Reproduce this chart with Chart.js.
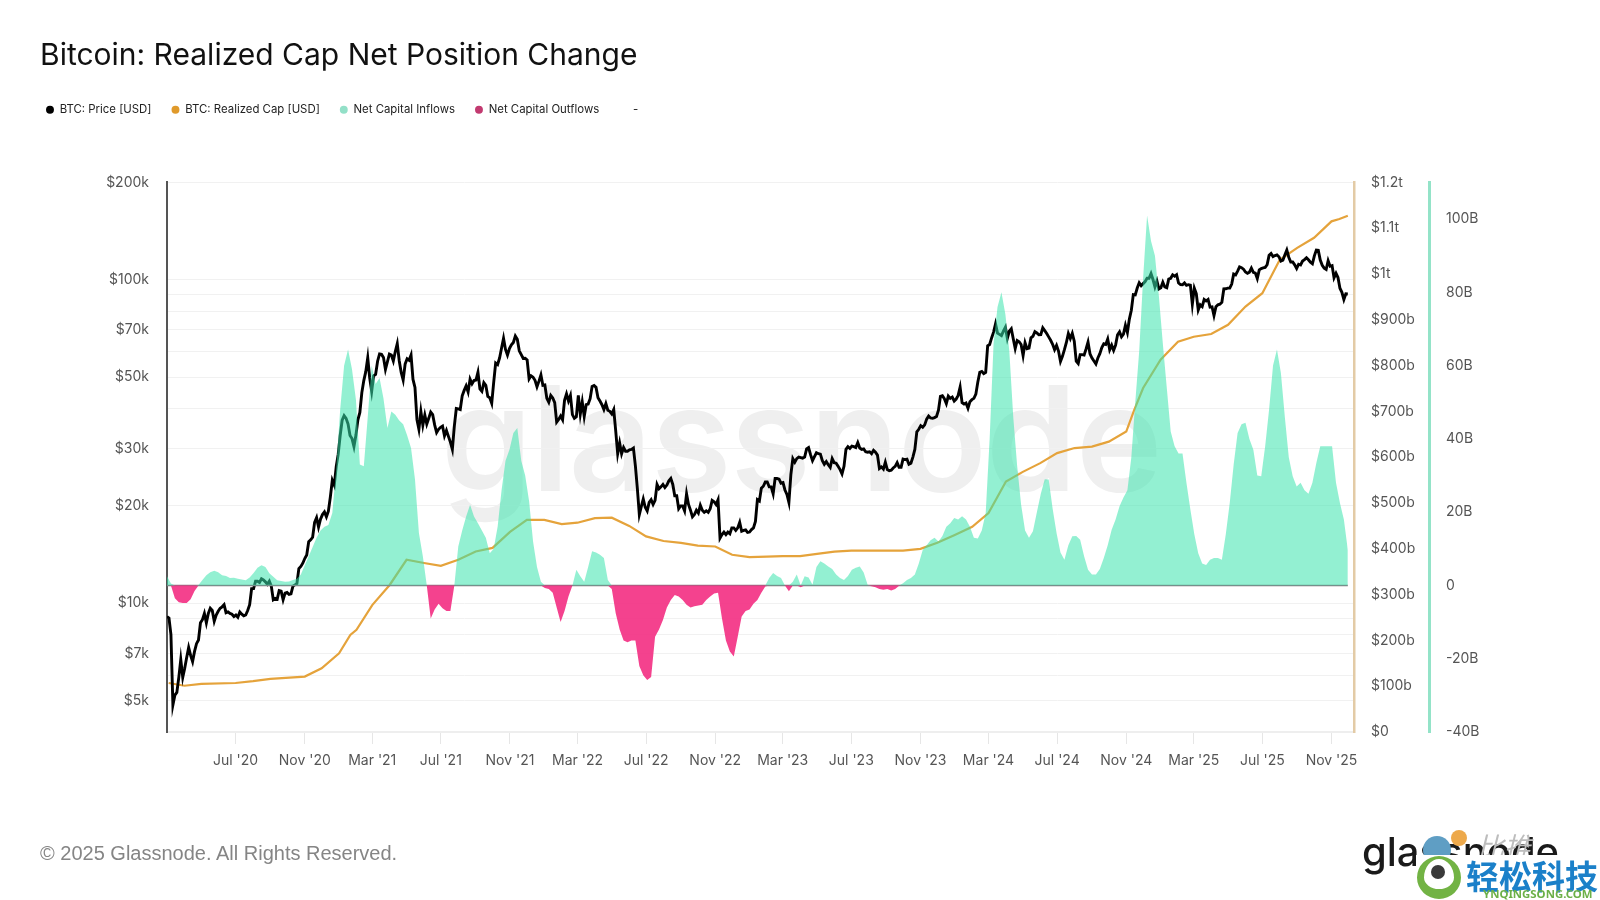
<!DOCTYPE html>
<html>
<head>
<meta charset="utf-8">
<title>Bitcoin: Realized Cap Net Position Change</title>
<script src="https://cdn.jsdelivr.net/npm/chart.js@4/dist/chart.umd.min.js"></script>
<style>
    html, body { margin: 0; padding: 0; background: #fff; }
    #page { position: relative; width: 1600px; height: 900px; overflow: hidden; background: #fff; }
    #page div { position: absolute; white-space: nowrap; }
    canvas { position: absolute; left: 0; top: 0; }
    #watermark { left: 441px; top: 350px; font: 600 146px Inter; color: #efefef; letter-spacing: -1px; }
    #copyright { left: 40px; top: 842px; font: 20px "Liberation Sans"; color: #858585; }
    #logo { left: 1362px; top: 827px; font: 500 40px Inter; color: #1a1a1a; }
    #mascot { left: 1423px; top: 836px; width: 28px; height: 28px; border-radius: 50%; background: #5f9ec4; }
    #coin { left: 1451px; top: 830px; width: 16px; height: 16px; border-radius: 50%; background: #eda94b; }
    #bitui { left: 1477px; top: 826px; font: italic 27px "Noto Sans CJK SC"; color: #bdbdbd; }
    #patch { left: 1416px; top: 855px; width: 184px; height: 45px; background: #fff; }
    #ring { left: 1417px; top: 856px; width: 30px; height: 30px; border: solid #72b344; border-width: 3px 7px 10px; border-radius: 50%; }
    #dot { left: 1431px; top: 865px; width: 14px; height: 14px; border-radius: 50%; background: #3a3a3a; }
    #brand { left: 1466px; top: 851px; font: 700 33px "Noto Sans CJK SC"; color: #1b80c9; }
    #site { left: 1483px; top: 886px; font: 700 11.4px "Noto Sans"; color: #6cb048; }
</style>
</head>
<body>
<div id="page">
    <div id="watermark">glassnode</div>
    <canvas id="myChart" width="1600" height="900"></canvas>
    <div id="copyright">© 2025 Glassnode. All Rights Reserved.</div>
    <div id="logo">glassnode</div>
    <div id="mascot"></div>
    <div id="coin"></div>
    <div id="bitui">比推</div>
    <div id="patch"></div>
    <div id="ring"></div>
    <div id="dot"></div>
    <div id="brand">轻松科技</div>
    <div id="site">YNQINGSONG.COM</div>
</div>

<script>
//Price, two values a week from 1 Mar 2020 (USD).
const price2020 = [9100, 9000, 8000, 4850, 5200, 5300, 5900, 6700, 5900, 6300, 6800, 7300, 6900, 6600, 7100, 7500, 7700, 8700, 8900, 9300, 8700, 9300, 9650, 9500, 8800, 9200, 9450, 9650, 9750, 9900, 9350, 9400, 9300, 9250, 9100, 9200, 9050, 9400, 9250, 9150, 9200, 9500, 9900, 11100, 11100, 11700, 11700, 11600, 11900, 11800, 11650, 11450, 11700, 11300, 10250, 10350, 10300, 10950, 10900, 10250, 10750, 10800, 10650, 10700, 11300, 11400, 11500, 12800, 13000, 13300, 13750, 14100, 15500, 15700, 16000, 17800, 18400, 17200, 18200, 18800, 19150, 18500, 19250, 21300, 24000, 23200, 26500, 28900];
const price2021 = [33000, 36800, 38000, 37300, 35800, 33000, 32300, 30500, 33100, 36900, 38900, 44800, 48800, 52000, 57400, 49700, 45200, 50500, 51000, 56000, 59000, 58800, 57500, 52800, 55800, 58900, 58500, 56100, 60000, 63500, 56200, 51700, 49000, 54900, 57000, 56400, 58500, 49200, 46500, 37000, 34500, 39200, 35500, 38200, 35800, 37300, 39000, 38300, 35600, 33700, 34500, 35000, 35300, 32900, 34200, 32800, 31500, 29900, 35300, 40000, 39900, 39700, 43800, 45500, 47000, 45000, 49300, 47700, 48800, 49000, 51800, 46000, 45200, 48100, 47200, 43600, 43200, 41500, 48200, 55300, 54700, 57300, 61500, 65900, 60900, 58500, 61300, 62900, 64000, 67000, 65500, 60300, 58700, 57100, 57200, 56500, 49400, 50500, 50000, 48900, 46700, 48600, 50800, 47200];
const price2022 = [47300, 43000, 41800, 43900, 43100, 41700, 36300, 37000, 37900, 36900, 42400, 44400, 42200, 43900, 38300, 37300, 37700, 43900, 38400, 41900, 37800, 41100, 41300, 42900, 46800, 47100, 46500, 43200, 42200, 41100, 39700, 41400, 39500, 39200, 38500, 39700, 34100, 29000, 31300, 29000, 30300, 29500, 29500, 29800, 29900, 30200, 26600, 22600, 18800, 19900, 21000, 19800, 19300, 20500, 20900, 20200, 20800, 23300, 22600, 22900, 23300, 22800, 23200, 23900, 24300, 23300, 21500, 21500, 19600, 20000, 20000, 19300, 21800, 20200, 19400, 18500, 18800, 19400, 19000, 20100, 19400, 19100, 19300, 19100, 19600, 20800, 20600, 20200, 20900, 15900, 16300, 16600, 16300, 16600, 16400, 17100, 17100, 16800, 17100, 17800, 16700, 16800, 16850, 16550];
const price2023 = [16600, 16900, 17100, 17900, 20900, 20700, 22700, 23000, 23700, 23700, 22900, 22900, 21800, 24300, 24300, 24200, 23500, 23600, 22400, 21700, 20500, 25000, 28000, 27300, 28000, 28300, 28200, 28100, 28300, 30000, 30300, 28800, 27600, 28400, 29200, 29000, 28900, 27600, 26900, 27400, 26800, 26300, 28000, 27200, 27100, 26500, 25900, 25100, 26500, 29900, 30500, 30100, 30600, 30500, 30300, 31400, 30200, 29900, 30000, 29400, 29300, 29400, 29000, 29700, 29300, 28700, 26100, 26400, 26000, 27300, 25900, 25700, 25800, 26200, 26500, 27200, 26300, 26300, 27900, 27800, 27900, 26900, 27100, 28300, 29900, 33900, 34500, 35400, 35000, 35600, 37100, 37900, 37400, 37300, 37500, 37800, 39500, 43600, 43800, 42900, 41400, 43700, 43000, 43400, 42200, 42800];
const price2024 = [43900, 46600, 41700, 41300, 41600, 40100, 42000, 42600, 43000, 44300, 48300, 51800, 52100, 51300, 51700, 62500, 63100, 66100, 68900, 73100, 68400, 67800, 67200, 69400, 71300, 65900, 69400, 70600, 65700, 61300, 64900, 64300, 63100, 58300, 63900, 61200, 61500, 66200, 66900, 69100, 68500, 67600, 67700, 71000, 69600, 68200, 66600, 65000, 63200, 60800, 62700, 60200, 55900, 58000, 60800, 64000, 68200, 65800, 68300, 64600, 56000, 55100, 58700, 58700, 58500, 61100, 64200, 59000, 57300, 56100, 54900, 57300, 59100, 61700, 63400, 63100, 65600, 60800, 62800, 60500, 62800, 67600, 69000, 66600, 67900, 72300, 68700, 75600, 80500, 90000, 89800, 94300, 97900, 95900, 97300, 98700, 101100, 101100, 104500, 100200, 95100, 99200, 93700, 94500];
const price2025 = [98300, 95000, 94500, 100500, 101100, 103600, 102600, 103700, 97700, 96600, 96500, 97800, 96100, 96600, 96300, 84000, 94200, 90600, 80700, 83700, 82600, 86900, 86000, 86900, 82300, 82500, 77500, 82500, 83700, 84000, 85200, 93700, 93800, 94200, 94300, 97000, 104100, 103500, 106400, 109600, 109000, 107800, 105700, 104700, 105600, 108700, 105500, 104900, 100900, 107300, 108300, 108800, 109200, 111300, 119000, 120500, 117900, 118800, 119400, 117800, 114200, 115000, 119300, 123500, 117400, 113500, 113500, 111200, 108300, 111700, 111100, 114300, 115400, 117000, 115300, 113300, 112100, 118600, 123500, 123300, 115100, 110800, 108600, 107600, 114500, 110100, 110600, 101500, 104700, 101600, 94200, 91500, 86900, 90500, 90400];

//Realized cap (USD billions).
const capDates = ['2020-03-04', '2020-04-01', '2020-05-01', '2020-07-01', '2020-08-01', '2020-09-01', '2020-11-01', '2020-12-01', '2021-01-01', '2021-01-21', '2021-02-01', '2021-03-01', '2021-04-01', '2021-05-01', '2021-06-01', '2021-07-01', '2021-08-01', '2021-09-01', '2021-10-01', '2021-11-01', '2021-12-01', '2022-01-01', '2022-02-01', '2022-03-01', '2022-04-01', '2022-05-01', '2022-06-01', '2022-07-01', '2022-08-01', '2022-09-01', '2022-10-01', '2022-11-01', '2022-12-01', '2023-01-01', '2023-02-01', '2023-03-01', '2023-04-01', '2023-05-01', '2023-06-01', '2023-07-01', '2023-08-01', '2023-09-01', '2023-10-01', '2023-11-01', '2023-12-01', '2024-01-01', '2024-02-01', '2024-03-01', '2024-04-01', '2024-05-01', '2024-06-01', '2024-07-01', '2024-08-01', '2024-09-01', '2024-10-01', '2024-11-01', '2024-11-15', '2024-12-01', '2025-01-01', '2025-02-01', '2025-03-01', '2025-04-01', '2025-05-01', '2025-06-01', '2025-07-01', '2025-08-01', '2025-09-01', '2025-10-01', '2025-11-01', '2025-11-15', '2025-11-30'];
const capValues = [107, 101, 105, 107, 111, 116, 121, 139, 172, 212, 223, 277, 321, 376, 369, 363, 376, 394, 402, 437, 463, 463, 454, 457, 467, 468, 450, 427, 417, 413, 407, 405, 387, 382, 383, 384, 384, 389, 394, 396, 396, 396, 396, 400, 413, 430, 448, 478, 547, 568, 587, 609, 620, 623, 634, 656, 703, 751, 813, 852, 863, 869, 889, 929, 958, 1031, 1057, 1079, 1115, 1120, 1127];

//Net position change, one value a week from 1 Mar 2020 (USD billions).
const netFlow = [
    2.5, 0.5, -3.5, -4.6, -4.8, -4.8, -3.8, -1.5, 0.1, 1.5,
    2.8, 3.6, 4, 3.6, 2.8, 2.6, 2, 2.1, 1.8, 1.6,
    1.4, 2.2, 3.4, 4.8, 5.5, 5, 3.3, 2.4, 1.4, 1.2,
    1, 1.1, 1.5, 1.8, 3, 5.5, 8, 10.5, 13, 15,
    16, 16.5, 19.8, 32, 48, 60, 64.4, 59, 50.7, 33,
    32.5, 46, 60, 55, 56.6, 51, 43, 47.5, 46.6, 45,
    44, 41, 37.5, 29, 14.3, 8, 0, -9, -6.6, -5,
    -6.2, -7, -7, 0, 10.6, 15, 18.8, 22, 18.8, 17,
    15, 13, 8.8, 10, 16, 26, 34, 37, 41.6, 43,
    34, 30, 23, 12, 5, 1, -0.7, -1, -2, -6,
    -10, -7, -3, 0, 4.3, 2.5, 1, 5, 9.3, 9,
    8.4, 7.5, 1.5, -1, -7.6, -12, -15, -15.5, -15, -15,
    -22, -24.5, -25.8, -25, -14, -12, -9.4, -6, -4, -2.6,
    -3, -4, -5.3, -6, -5.7, -5.5, -5.3, -4, -3, -2.2,
    -2, -9, -15, -18, -19.4, -14, -8.5, -7, -6.6, -5,
    -4, -2, -0.3, 2, 3.4, 2.6, 2, 0, -1.6, 1,
    3, -0.5, 2.5, 2.2, 0.2, 5, 6.6, 6, 5.2, 4.5,
    3, 2, 1.5, 2.6, 4.3, 4.8, 5.2, 3.5, 0.2, -0.2,
    -0.5, -1, -1.2, -1, -1.4, -1, -0.1, 0.6, 1.5, 2,
    3, 6, 9.7, 11, 12.3, 13, 12, 13.5, 16, 17,
    18.4, 18, 18.9, 18, 16, 13, 12.8, 15, 19.8, 40,
    66, 76, 80, 74, 64, 46, 32.5, 22, 15, 13,
    14.8, 20, 25, 29, 28.9, 21, 14.3, 9, 7, 11,
    13.4, 13.5, 12.5, 8, 4.3, 3, 3, 4.5, 7.5, 11,
    15.2, 18, 21.6, 24, 26, 35, 50, 64, 84, 101,
    94, 90, 79, 66, 54, 42, 38, 36, 36, 28,
    20.7, 14, 8.8, 6, 5.6, 7, 7.5, 7.5, 7, 14,
    22.5, 33, 41.6, 44, 44.4, 40, 37, 30, 29.8, 38,
    48, 60, 64.4, 58, 46, 35, 29.8, 27, 28, 26,
    25, 28, 33.4, 38, 38, 38, 38, 28, 22.5, 18,
    9.7
];

//Axes.
const xTickDates = ['2020-07-01', '2020-11-01', '2021-03-01', '2021-07-01', '2021-11-01', '2022-03-01', '2022-07-01', '2022-11-01', '2023-03-01', '2023-07-01', '2023-11-01', '2024-03-01', '2024-07-01', '2024-11-01', '2025-03-01', '2025-07-01', '2025-11-01'];
const xTickLabels = ["Jul '20", "Nov '20", "Mar '21", "Jul '21", "Nov '21", "Mar '22", "Jul '22", "Nov '22", "Mar '23", "Jul '23", "Nov '23", "Mar '24", "Jul '24", "Nov '24", "Mar '25", "Jul '25", "Nov '25"];
const priceGridValues = [4000, 5000, 6000, 7000, 8000, 9000, 10000, 20000, 30000, 40000, 50000, 60000, 70000, 80000, 90000, 100000, 200000];
const priceTickValues = [5000, 7000, 10000, 20000, 30000, 50000, 70000, 100000, 200000];
const priceTickLabels = ['$5k', '$7k', '$10k', '$20k', '$30k', '$50k', '$70k', '$100k', '$200k'];
const capTickValues = [0, 100, 200, 300, 400, 500, 600, 700, 800, 900, 1000, 1100, 1200];
const capTickLabels = ['$0', '$100b', '$200b', '$300b', '$400b', '$500b', '$600b', '$700b', '$800b', '$900b', '$1t', '$1.1t', '$1.2t'];
const flowTickValues = [-40, -20, 0, 20, 40, 60, 80, 100];
const flowTickLabels = ['-40B', '-20B', '0', '20B', '40B', '60B', '80B', '100B'];

const legendNames = ['BTC: Price [USD]', 'BTC: Realized Cap [USD]', 'Net Capital Inflows', 'Net Capital Outflows', '-'];
const legendColors = ['#000000', '#e09a2b', '#93e0c8', '#c23a70', 'rgba(0,0,0,0)'];


const DAY = 86400000;
const startTime = Date.parse('2020-03-01');
const endTime = Date.parse('2025-12-11');

const priceValues = [].concat(price2020, price2021, price2022, price2023, price2024, price2025);
const priceData = priceValues.map((v, i) => ({ x: startTime + i * 3.5 * DAY, y: v }));
const capData = capValues.map((v, i) => ({ x: Date.parse(capDates[i]), y: v }));
const inflowData = netFlow.map((v, i) => ({ x: startTime + i * 7 * DAY, y: Math.max(v, 0) }));
const outflowData = netFlow.map((v, i) => ({ x: startTime + i * 7 * DAY, y: Math.min(v, 0) }));
const zeroData = netFlow.map((v, i) => ({ x: startTime + i * 7 * DAY, y: 0 }));

const tickFont = { family: 'Inter', size: 14 };
const tickColor = '#555555';

function setTicks(values) {
    return function (scale) {
        scale.ticks = values.map(v => ({ value: v }));
    };
}

function lookupLabel(values, labels) {
    return function (value) {
        const i = values.indexOf(value);
        return i < 0 ? '' : labels[i];
    };
}

//Leave room under the legend, and pull it back under the title.
const legendGap = {
    id: 'legendGap',
    beforeInit(chart) {
        const legend = chart.legend;
        const fit = legend.fit;
        const draw = legend.draw;
        legend.fit = function () {
            fit.bind(legend)();
            this.height += 57;
        };
        legend.draw = function () {
            this.ctx.save();
            this.ctx.translate(-14, 0);
            draw.bind(legend)();
            this.ctx.restore();
        };
    }
};

const xTickTimes = xTickDates.map(d => Date.parse(d));

new Chart(document.getElementById('myChart').getContext('2d'), {
    type: 'line',
    plugins: [legendGap],
    data: {
        datasets: [
            { label: 'Net Capital Inflows', data: inflowData, yAxisID: 'flow', order: 0, borderWidth: 0, pointRadius: 0, backgroundColor: 'rgba(55,228,172,0.54)', fill: { value: 0 } },
            { label: 'Net Capital Outflows', data: outflowData, yAxisID: 'flow', order: 0, borderWidth: 0, pointRadius: 0, backgroundColor: 'rgba(243,45,130,0.9)', fill: { value: 0 } },
            { label: 'zero', data: zeroData, yAxisID: 'flow', order: 1, borderWidth: 1.5, borderColor: '#8b7380', pointRadius: 0 },
            { label: 'BTC: Price [USD]', data: priceData, yAxisID: 'price', order: 2, borderWidth: 2.9, borderColor: '#000000', pointRadius: 0 },
            { label: 'BTC: Realized Cap [USD]', data: capData, yAxisID: 'cap', order: 3, borderWidth: 2.2, borderColor: '#e5a33b', pointRadius: 0 }
        ]
    },
    options: {
        responsive: false,
        animation: false,
        devicePixelRatio: 1,
        parsing: false,
        layout: { padding: { left: 40, right: 0, top: 0, bottom: 0 } },
        plugins: {
            tooltip: { enabled: false },
            title: {
                display: true,
                align: 'start',
                text: 'Bitcoin: Realized Cap Net Position Change',
                color: '#111111',
                font: { family: 'Inter', size: 30, weight: 'normal', lineHeight: 1.2 },
                padding: { top: 38, bottom: 10 }
            },
            legend: {
                display: true,
                align: 'start',
                onClick: null,
                labels: {
                    usePointStyle: true,
                    boxWidth: 8,
                    boxHeight: 5.6,
                    padding: 20,
                    color: '#222222',
                    font: { family: 'Inter', size: 11.4 },
                    generateLabels: () => legendNames.map((name, i) => ({
                        text: name,
                        fillStyle: legendColors[i],
                        strokeStyle: legendColors[i],
                        fontColor: '#222222',
                        lineWidth: 0,
                        pointStyle: 'circle'
                    }))
                }
            }
        },
        scales: {
            x: {
                type: 'linear',
                min: startTime,
                max: endTime,
                afterFit(scale) { scale.height = 168; },
                afterBuildTicks: setTicks(xTickTimes),
                grid: { drawOnChartArea: false, tickLength: 12, color: '#e6e6e6' },
                border: { color: '#eeeeee', width: 2 },
                ticks: {
                    autoSkip: false,
                    maxRotation: 0,
                    padding: 8,
                    color: tickColor,
                    font: tickFont,
                    callback: lookupLabel(xTickTimes, xTickLabels)
                }
            },
            price: {
                type: 'logarithmic',
                position: 'left',
                min: 4000,
                max: 200000,
                afterFit(scale) { scale.width = 127; },
                afterBuildTicks: setTicks(priceGridValues),
                grid: { color: '#f1f1f1', drawTicks: false },
                border: { color: '#555555', width: 2 },
                ticks: {
                    autoSkip: false,
                    padding: 18,
                    color: tickColor,
                    font: tickFont,
                    callback: lookupLabel(priceTickValues, priceTickLabels)
                }
            },
            cap: {
                type: 'linear',
                position: 'right',
                min: 0,
                max: 1200,
                afterFit(scale) { scale.width = 75; },
                afterBuildTicks: setTicks(capTickValues),
                grid: { display: false, drawTicks: false },
                border: { color: '#e3cba6', width: 2.5 },
                ticks: {
                    autoSkip: false,
                    padding: 17,
                    color: tickColor,
                    font: tickFont,
                    callback: lookupLabel(capTickValues, capTickLabels)
                }
            },
            flow: {
                type: 'linear',
                position: 'right',
                min: -40,
                max: 110,
                afterFit(scale) { scale.width = 171; },
                afterBuildTicks: setTicks(flowTickValues),
                grid: { display: false, drawTicks: false },
                border: { color: '#94e3c8', width: 3 },
                ticks: {
                    autoSkip: false,
                    padding: 17,
                    color: tickColor,
                    font: tickFont,
                    callback: lookupLabel(flowTickValues, flowTickLabels)
                }
            }
        }
    }
});
</script>
</body>
</html>
